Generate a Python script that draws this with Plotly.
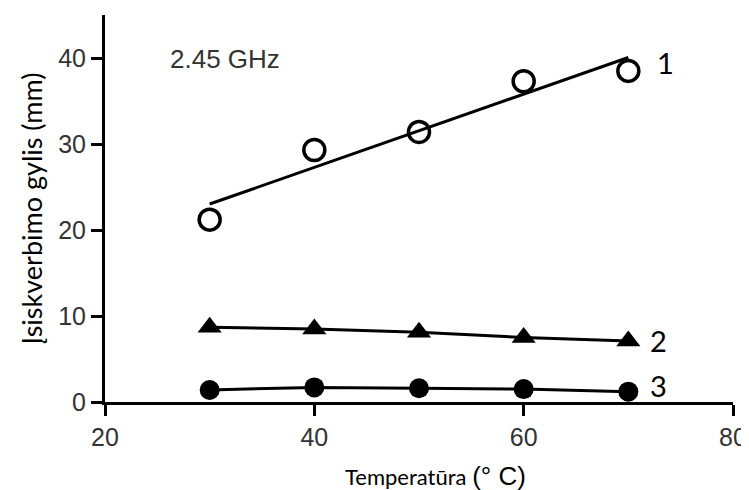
import numpy as np
import plotly.graph_objects as go

temperature = [30, 40, 50, 60, 70]
series1 = [21.2, 29.3, 31.4, 37.3, 38.5]
series2 = [8.7, 8.5, 8.1, 7.5, 7.1]
series3 = [1.4, 1.7, 1.6, 1.5, 1.2]
curve_labels = ["1", "2", "3"]
x_ticks = [20, 40, 60, 80]
y_ticks = [0, 10, 20, 30, 40]

# linear fit for series 1
k, b = np.polyfit(temperature, series1, 1)
fit_x = [temperature[0], temperature[-1]]
fit_y = [k * x + b for x in fit_x]

fig = go.Figure()
fig.add_trace(go.Scatter(x=fit_x, y=fit_y, mode="lines",
                         line=dict(color="black", width=3), showlegend=False))
fig.add_trace(go.Scatter(x=temperature, y=series1, mode="markers",
                         marker=dict(symbol="circle-open", size=21, color="black",
                                     line=dict(width=3.5, color="black")),
                         showlegend=False))
fig.add_trace(go.Scatter(x=temperature, y=series2, mode="lines+markers",
                         line=dict(color="black", width=3),
                         marker=dict(symbol="triangle-up", size=21, color="black"),
                         showlegend=False))
fig.add_trace(go.Scatter(x=temperature, y=series3, mode="lines+markers",
                         line=dict(color="black", width=3),
                         marker=dict(symbol="circle", size=20, color="black"),
                         showlegend=False))

label_y = [39.5, 7.1, 1.9]
label_shift = [7, 0, 0]
for lab, ly, sh in zip(curve_labels, label_y, label_shift):
    fig.add_annotation(x=71.9, y=ly, text=lab, showarrow=False, xanchor="left",
                       yanchor="middle", xshift=sh,
                       font=dict(family="Lato, sans-serif", size=29, color="black"))

fig.add_annotation(x=0.1, y=0.887, xref="paper", yref="paper", text="2.45 GHz",
                   showarrow=False, xanchor="left", yanchor="middle",
                   font=dict(family="Liberation Sans, Arial", size=26, color="#333333"))

# x-axis title (placed as annotation so it can sit slightly right of centre)
fig.add_annotation(x=0.527, y=-0.19, xref="paper", yref="paper",
                   text="Temperatūra <span style='font-family:Liberation Sans;font-size:26px'>(° C)</span>",
                   showarrow=False, xanchor="center", yanchor="middle",
                   font=dict(family="Lato, sans-serif", size=22, color="black"))

axis_common = dict(showgrid=False, zeroline=False, showline=True, linecolor="black",
                   linewidth=3, ticks="outside", ticklen=11, tickwidth=3,
                   tickcolor="black", automargin=False,
                   tickfont=dict(family="Liberation Sans, Arial", size=25, color="#333333"))

fig.update_xaxes(range=[20, 80], tickvals=x_ticks, **axis_common)
fig.update_yaxes(range=[0, 45], tickvals=y_ticks, **axis_common,
                 title=dict(text="Įsiskverbimo gylis (mm)",
                            font=dict(family="Lato, sans-serif", size=27, color="black"),
                            standoff=8))

# page body has an 8px default margin, so the figure is sized to fit the window
fig.update_layout(width=741, height=482, plot_bgcolor="white", paper_bgcolor="white",
                  margin=dict(l=97, r=16, t=7, b=88))

fig.write_html("out.html")
